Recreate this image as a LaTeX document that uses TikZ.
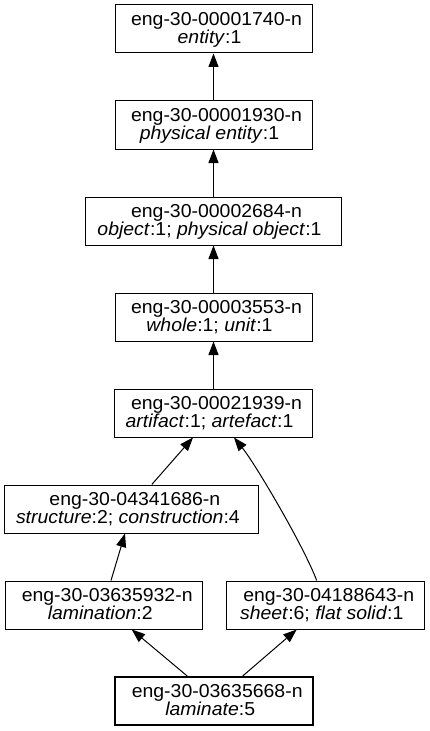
\documentclass[tikz,border=0pt]{standalone}
\usepackage{fontspec}
\setmainfont[FakeStretch=1.04]{Liberation Sans}
\usetikzlibrary{arrows.meta,calc}
\tikzset{
  synset/.style={draw, line width=1bp, rectangle, inner sep=0pt, minimum height=48bp,
    align=center, font=\fontsize{18.7bp}{17.6bp}\selectfont, text height=32.6bp, text depth=4bp},
  focus/.style={synset, line width=2bp},
  hyper/.style={line width=1bp, -{Triangle[length=13.5bp,width=10bp]}},
}
\newcommand\gvlab[2]{\hbox{\kern6bp #1}\\\hbox{#2\kern8bp}}
\begin{document}
\begin{tikzpicture}[x=1bp,y=-1bp]
\fill[white] (0,0) rectangle (429,731);
\useasboundingbox (0,0) rectangle (429,731);
\node[synset, minimum width=197bp] (entity) at (213.5,29) {\gvlab{eng-30-00001740-n}{\textit{entity}:1}};
\node[synset, minimum width=197bp] (physent) at (213.5,125) {\gvlab{eng-30-00001930-n}{\textit{physical entity}:1}};
\node[synset, minimum width=255bp] (object) at (213.5,221) {\gvlab{eng-30-00002684-n}{\textit{object}:1; \textit{physical object}:1}};
\node[synset, minimum width=197bp] (whole) at (213.5,317) {\gvlab{eng-30-00003553-n}{\textit{whole}:1; \textit{unit}:1}};
\node[synset, minimum width=198bp] (artifact) at (213.5,413) {\gvlab{eng-30-00021939-n}{\textit{artifact}:1; \textit{artefact}:1}};
\node[synset, minimum width=254bp] (structure) at (131.9,509) {\gvlab{eng-30-04341686-n}{\textit{structure}:2; \textit{construction}:4}};
\node[synset, minimum width=197bp] (lamination) at (104.2,605) {\gvlab{eng-30-03635932-n}{\textit{lamination}:2}};
\node[synset, minimum width=198bp] (sheet) at (325.7,605) {\gvlab{eng-30-04188643-n}{\textit{sheet}:6; \textit{flat solid}:1}};
\node[focus, minimum width=198bp] (laminate) at (214.2,701) {\gvlab{eng-30-03635668-n}{\textit{laminate}:5}};
\draw[hyper] (physent) -- (entity);
\draw[hyper] (object) -- (physent);
\draw[hyper] (whole) -- (object);
\draw[hyper] (artifact) -- (whole);
\draw[hyper] ($(structure.north)+(19.9,0)$) -- ($(artifact.south)+(-20.5,0)$);
\draw[hyper] ($(lamination.north)+(6.8,0)$) -- ($(structure.south)+(-6.9,0)$);
\draw[hyper] ($(laminate.north)+(-27,0)$) -- ($(lamination.south)+(27.5,0)$);
\draw[hyper] ($(laminate.north)+(28.5,0)$) -- ($(sheet.south)+(-29,0)$);
\draw[hyper] ($(sheet.north)+(-9,0)$) .. controls ($(sheet.north)+(-22.7,-36)$) and ($(artifact.south)+(41.5,26)$) .. ($(artifact.south)+(20.5,0)$);
\end{tikzpicture}
\end{document}
